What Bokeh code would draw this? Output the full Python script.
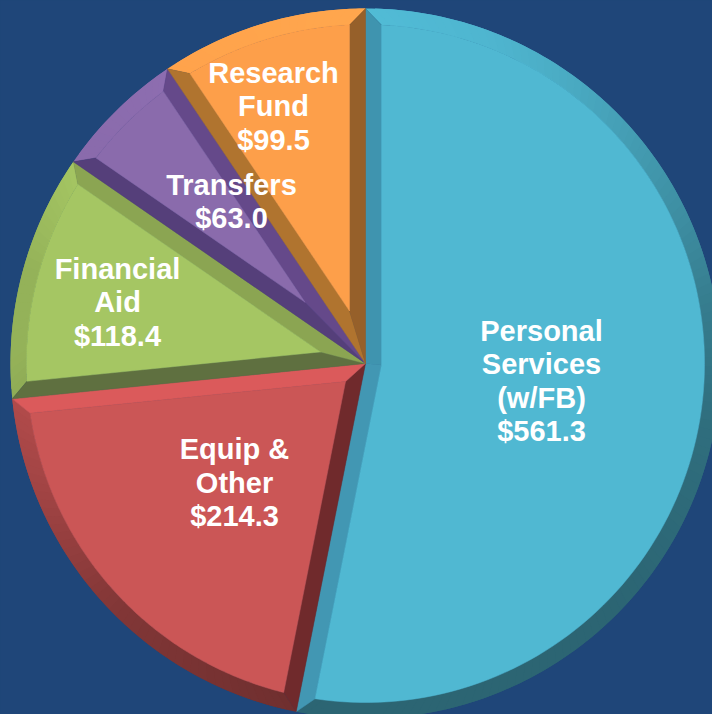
import numpy as np
from bokeh.plotting import figure
from bokeh.models import Range1d, ColumnDataSource
from bokeh.core.properties import value
from bokeh.embed import file_html
from bokeh.resources import INLINE

# data (clockwise from 12 o'clock)
categories = ["Personal\nServices\n(w/FB)", "Equip &\nOther", "Financial\nAid", "Transfers", "Research\nFund"]
values = [561.3, 214.3, 118.4, 63.0, 99.5]
value_labels = ["$561.3", "$214.3", "$118.4", "$63.0", "$99.5"]

# styles
bg = "#1F4679"
face_colors = ["#50B8D2", "#CB5656", "#A5C663", "#8A6BAC", "#FD9F4A"]
start_side = ["#3F94AF", "#702A2C", "#5F7040", "#553F7A", "#B0742F"]   # side on the clockwise-start edge
end_side = ["#4297B3", "#DB5A5B", "#8BA552", "#65498A", "#96602A"]     # side on the clockwise-end edge
shade_angles = [0, 20, 35, 50, 65, 80, 100, 135, 190, 225, 250, 270, 285, 305, 330, 360]
shade_values = [1.02, 0.99, 0.93, 0.85, 0.77, 0.68, 0.6, 0.55, 0.55, 0.64, 0.8, 0.9, 0.9, 1.0, 1.03, 1.05]
label_x = [541, 234, 117, 231, 273]
label_y0 = [330, 448.7, 268, 184, 72]
line_h = 33.6
CX, CY, R, D = 365.0, 363.0, 355.0, 16.0

W, H = 712, 714
p = figure(width=W, height=H, output_backend="svg", toolbar_location=None,
           x_range=Range1d(0, W), y_range=Range1d(H, 0),
           background_fill_color=bg, border_fill_color=bg,
           outline_line_color=None, min_border=0, min_border_left=0, min_border_right=0,
           min_border_top=0, min_border_bottom=0)
p.axis.visible = False
p.grid.visible = False


def pt(theta, r):
    t = np.radians(theta)
    return CX + r * np.sin(t), CY - r * np.cos(t)


def mix(col, f):
    rgb = [int(col[i:i + 2], 16) for i in (1, 3, 5)]
    return "#%02X%02X%02X" % tuple(int(min(255, c * f)) for c in rgb)


total = sum(values)
edges = np.concatenate([[0], np.cumsum(values)]) / total * 360
rim_x, rim_y, rim_c = [], [], []
xs, ys, cols = [], [], []


def add(poly, c, X, Y, C):
    X.append([q[0] for q in poly])
    Y.append([q[1] for q in poly])
    C.append(c)


for i in range(len(values)):
    a, b = edges[i], edges[i + 1]
    half = (b - a) / 2
    d_ang = np.degrees(np.arcsin(D / (R - D)))
    ins = D / np.sin(np.radians(half))
    apex = (CX, CY)
    f_apex = pt(a + half, ins)
    ia, ib = a + d_ang, b - d_ang
    # rim: each band runs under the next one so no seams show
    n = max(4, int((b - a) / 1.5))
    th_o = np.linspace(a, b, n + 1)
    th_i = np.linspace(ia, ib, n + 1)
    for k in range(n):
        mid = (th_o[k] + th_o[k + 1]) / 2
        f = float(np.interp(mid, shade_angles, shade_values))
        e = min(k + 2, n)
        outer = [pt(t, R) for t in np.linspace(th_o[k], th_o[e], 4)]
        inner = [pt(t, R - D) for t in np.linspace(th_i[e], th_i[k], 4)]
        add(outer + inner, mix(face_colors[i], f), rim_x, rim_y, rim_c)
    # sides
    add([apex, pt(a, R), pt(ia, R - D), f_apex], start_side[i], xs, ys, cols)
    add([apex, pt(b, R), pt(ib, R - D), f_apex], end_side[i], xs, ys, cols)
    # face
    th = np.linspace(ia, ib, 120)
    add([f_apex] + [pt(t, R - D) for t in th], face_colors[i], xs, ys, cols)

p.patches("xs", "ys", source=ColumnDataSource(dict(xs=rim_x, ys=rim_y, c=rim_c)),
          fill_color="c", line_color=None)
p.patches("xs", "ys", source=ColumnDataSource(dict(xs=xs, ys=ys, c=cols)),
          fill_color="c", line_color="c", line_width=0.5)

tx, ty, tt = [], [], []
for i, cat in enumerate(categories):
    lines = cat.split("\n") + [value_labels[i]]
    for j, ln in enumerate(lines):
        tx.append(label_x[i])
        ty.append(label_y0[i] + j * line_h)
        tt.append(ln)
p.text(tx, ty, text=tt, text_color="#FFFFFF", text_align="center", text_baseline="middle",
       text_font=value("Liberation Sans"), text_font_style="bold", text_font_size="29px")

html = file_html(p, INLINE)
html = html.replace("<head>", "<head><style>html,body{margin:0;padding:0;overflow:hidden;background:%s}</style>" % bg, 1)
open("out.html", "w").write(html)
